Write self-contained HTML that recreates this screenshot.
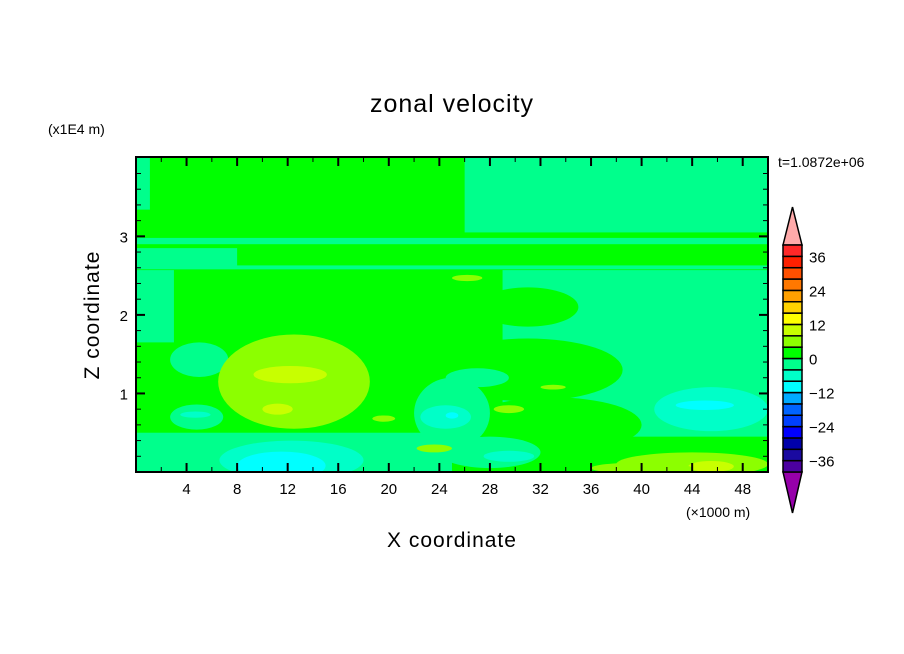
<!DOCTYPE html>
<html><head><meta charset="utf-8"><style>
body{margin:0;background:#fff}
svg{display:block;font-family:"Liberation Sans",sans-serif}
</style></head><body>
<svg id="c" width="904" height="654" xmlns="http://www.w3.org/2000/svg">
<text x="452" y="112" text-anchor="middle" font-size="25" letter-spacing="1">zonal velocity</text>
<text x="48" y="134" font-size="14">(x1E4 m)</text>
<text x="778" y="167" font-size="14">t=1.0872e+06</text>
<text x="452" y="547" text-anchor="middle" font-size="21" letter-spacing="1">X coordinate</text>
<text transform="translate(99,315) rotate(-90)" text-anchor="middle" font-size="21" letter-spacing="1">Z coordinate</text>
<text x="686" y="517" font-size="14">(×1000 m)</text>
<defs><clipPath id="pc"><rect x="136" y="157" width="632" height="315"/></clipPath></defs>
<g id="field" clip-path="url(#pc)"></g>
<g id="axes"></g>
<g id="cbar"></g>
</svg>
<script>
const levelColors=["#4b00a0","#1a0aa0","#0000aa","#0000ff","#0040ff","#0064ff","#00aaff","#00ffff","#00ffc8","#00ff8c","#00ff00","#8cff00","#c8ff00","#ffff00","#ffd200","#ffa000","#ff7800","#ff5000","#ff2000","#ff2828"];
const levelMin=-40, levelStep=4;
const xTicks=[4,8,12,16,20,24,28,32,36,40,44,48];
const zTicks=[1,2,3];
const cbarTicks=[-36,-24,-12,0,12,24,36];
// rectangular bands: x0,x1,z0,z1,value
const bandX0=[26,0,0,0,0,0,29,0,30];
const bandX1=[50,1.1,50,8,50,3,50,25,50];
const bandZ0=[3.05,3.34,2.9,2.62,2.58,1.65,0.45,0,0];
const bandZ1=[4.0,4.0,2.98,2.85,2.63,2.57,2.57,0.5,0.3];
const bandV=[-2,-2,-2,-2,-2,-2,-2,-2,2];
// elliptical blobs: cx,cz,rx,rz,value
const blobX=[31,31,27,33,45.5,45,28,29.5,44,45.5,40,5,12.5,12.2,11.2,4.8,4.7,12.3,11.5,25,24.5,25,19.6,23.6,29.5,26.2,33];
const blobZ=[2.1,1.3,1.2,0.6,0.8,0.85,0.25,0.2,0.1,0.07,0.05,1.43,1.15,1.24,0.8,0.7,0.73,0.15,0.08,0.75,0.7,0.72,0.68,0.3,0.8,2.47,1.08];
const blobRX=[4,7.5,2.5,7,4.5,2.3,4,2,6,1.8,4,2.3,6,2.9,1.2,2.1,1.2,5.7,3.5,3,2,0.5,0.9,1.4,1.2,1.2,1];
const blobRZ=[0.25,0.4,0.12,0.35,0.28,0.06,0.2,0.07,0.15,0.07,0.07,0.22,0.6,0.11,0.07,0.16,0.04,0.25,0.18,0.45,0.15,0.04,0.04,0.05,0.05,0.04,0.03];
const blobV=[2,2,-2,2,-6,-10,-2,-6,6,10,6,-2,6,10,10,-2,-6,-6,-10,-2,-6,-10,6,6,6,6,6];

const X0=136,X1=768,Y0=472,Y1=157,XMAX=50,ZMAX=4.01;
const sx=v=>X0+v/XMAX*(X1-X0);
const sz=v=>Y0-v/ZMAX*(Y0-Y1);
const col=v=>levelColors[Math.max(0,Math.min(19,Math.floor((v-levelMin)/levelStep)))];
const NS="http://www.w3.org/2000/svg";
function mk(tag,parent,attrs){const e=document.createElementNS(NS,tag);for(const k in attrs)e.setAttribute(k,attrs[k]);parent.appendChild(e);return e;}
const field=document.getElementById('field');
let bg=mk('rect',field,{x:X0,y:Y1,width:X1-X0,height:Y0-Y1,fill:col(2)});


for(let i=0;i<bandV.length;i++){
  const r=mk('rect',field,{x:sx(bandX0[i]),y:sz(bandZ1[i]),width:sx(bandX1[i])-sx(bandX0[i]),height:sz(bandZ0[i])-sz(bandZ1[i]),fill:col(bandV[i])});
  
  
}
for(let i=0;i<blobV.length;i++){
  const e=mk('ellipse',field,{cx:sx(blobX[i]),cy:sz(blobZ[i]),rx:sx(blobRX[i])-sx(0),ry:sz(0)-sz(blobRZ[i]),fill:col(blobV[i])});
  
  
}
const axes=document.getElementById('axes');


mk('rect',axes,{x:X0,y:Y1,width:X1-X0,height:Y0-Y1,fill:'none',stroke:'#000','stroke-width':2});
for(let v=2;v<XMAX;v+=2){
  const L=(v%4===0)?9:5;
  mk('line',axes,{x1:sx(v),x2:sx(v),y1:Y0,y2:Y0-L,stroke:'#000','stroke-width':v%4===0?2:1});
  mk('line',axes,{x1:sx(v),x2:sx(v),y1:Y1,y2:Y1+L,stroke:'#000','stroke-width':v%4===0?2:1});
}
for(let k=1;k<20;k++){
  const v=k*0.2,maj=(k%5===0),L=maj?9:5;
  mk('line',axes,{x1:X0,x2:X0+L,y1:sz(v),y2:sz(v),stroke:'#000','stroke-width':maj?2:1});
  mk('line',axes,{x1:X1,x2:X1-L,y1:sz(v),y2:sz(v),stroke:'#000','stroke-width':maj?2:1});
}
xTicks.forEach(v=>{const t=mk('text',axes,{x:sx(v),y:Y0+22,'text-anchor':'middle','font-size':15});t.textContent=v;
  
  });
zTicks.forEach(v=>{const t=mk('text',axes,{x:X0-8,y:sz(v)+6,'text-anchor':'end','font-size':15});t.textContent=v;
  
  });
const cb=document.getElementById('cbar');
const CX=783,CW=19,CB0=472,CB1=245,bh=(CB0-CB1)/20;
const cy=v=>CB0-(v-levelMin)/(levelStep*20)*(CB0-CB1);
mk('polygon',cb,{points:`${CX},${CB1} ${CX+CW/2},207 ${CX+CW},${CB1}`,fill:'#ffaaaa',stroke:'#000','stroke-width':1.5});
mk('polygon',cb,{points:`${CX},${CB0} ${CX+CW/2},513 ${CX+CW},${CB0}`,fill:'#9600aa',stroke:'#000','stroke-width':1.5});
levelColors.forEach((c,i)=>{const r=mk('rect',cb,{x:CX,y:cy(levelMin+(i+1)*levelStep),width:CW,height:bh,fill:c,stroke:'#000','stroke-width':1.5});
  
  });
cbarTicks.forEach(v=>{const t=mk('text',cb,{x:809,y:cy(v)+6,'font-size':15});t.textContent=(v<0?'\u2212'+(-v):v);
  
  });
</script>
</body></html>
